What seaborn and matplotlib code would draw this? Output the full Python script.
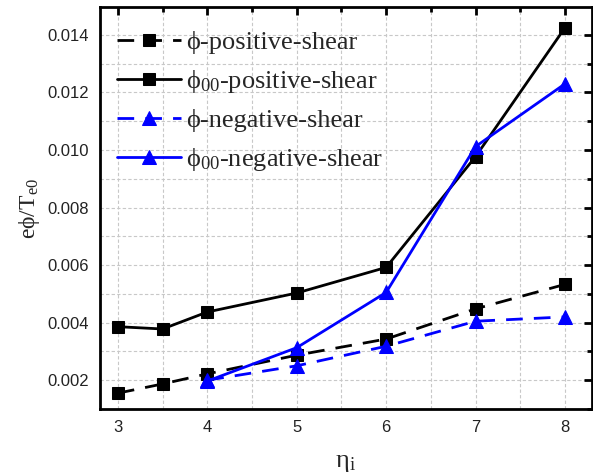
import numpy as np
import pandas as pd
import matplotlib
matplotlib.use("Agg")
import matplotlib.pyplot as plt
import seaborn as sns

eta_pos = [3, 3.5, 4, 5, 6, 7, 8]
phi_pos = [0.00155, 0.00187, 0.00222, 0.00287, 0.00343, 0.00448, 0.00533]
phi00_pos = [0.00386, 0.00378, 0.00437, 0.00503, 0.00592, 0.00977, 0.01425]
eta_neg = [4, 5, 6, 7, 8]
phi_neg = [0.00200, 0.00250, 0.00318, 0.00405, 0.00420]
phi00_neg = [0.00197, 0.00313, 0.00505, 0.01012, 0.01230]

labels = ["ϕ-positive-shear", "ϕ$_{00}$-positive-shear",
          "ϕ-negative-shear", "ϕ$_{00}$-negative-shear"]

sns.set_theme(style="white")
plt.rcParams['font.family'] = ['Liberation Sans', 'DejaVu Sans']
plt.rcParams['mathtext.fontset'] = 'custom'
plt.rcParams['mathtext.rm'] = 'Liberation Serif'
plt.rcParams['mathtext.it'] = 'Liberation Serif'

fig = plt.figure(figsize=(5.93, 4.76), dpi=100)
ax = fig.add_axes([0.1686, 0.1408, 0.8294, 0.8445])

df_pos = pd.DataFrame({"eta": eta_pos, "phi": phi_pos, "phi00": phi00_pos})
df_neg = pd.DataFrame({"eta": eta_neg, "phi": phi_neg, "phi00": phi00_neg})

sns.lineplot(data=df_pos, x="eta", y="phi", ax=ax, color="black", linestyle=(0, (6, 4)),
             marker="s", markersize=9, markeredgecolor="black", linewidth=2, label=labels[0])
sns.lineplot(data=df_pos, x="eta", y="phi00", ax=ax, color="black", linestyle="-",
             marker="s", markersize=9, markeredgecolor="black", linewidth=2, label=labels[1])
sns.lineplot(data=df_neg, x="eta", y="phi", ax=ax, color="#0000ff", linestyle=(0, (6, 4)),
             marker="^", markersize=10, markeredgecolor="#0000ff", linewidth=2, label=labels[2])
sns.lineplot(data=df_neg, x="eta", y="phi00", ax=ax, color="#0000ff", linestyle="-",
             marker="^", markersize=10, markeredgecolor="#0000ff", linewidth=2, label=labels[3])

ax.set_xlim(2.8, 8.3)
ax.set_ylim(0.001, 0.01497)
ax.set_xticks([3, 4, 5, 6, 7, 8])
ax.set_xticks(np.arange(3.5, 8.3, 1.0), minor=True)
ax.set_yticks([0.002, 0.004, 0.006, 0.008, 0.010, 0.012, 0.014])
ax.set_yticks(np.arange(0.001, 0.0150, 0.002), minor=True)
ax.set_yticklabels(["0.002", "0.004", "0.006", "0.008", "0.010", "0.012", "0.014"])

ax.grid(True, which="both", linestyle=(0, (3, 2)), color="#c8c8c8", linewidth=0.8)
ax.set_axisbelow(True)

ax.tick_params(which="major", direction="in", length=6, width=2, top=True, right=True,
               labelsize=12, colors="black", labelcolor="#222222", pad=8)
ax.tick_params(which="minor", direction="in", length=3.5, width=2, top=True, right=True,
               colors="black")
for s in ax.spines.values():
    s.set_linewidth(2)
    s.set_color("black")

ax.set_xlabel("η$_{\\mathrm{i}}$", fontsize=19, family="Liberation Serif", labelpad=12)
ax.set_ylabel("eϕ/T$_{\\mathrm{e0}}$", fontsize=17, family="Liberation Serif", labelpad=4)

leg = ax.legend(loc="upper left", bbox_to_anchor=(0.003, 0.98), frameon=False,
                prop={"family": "Liberation Serif", "size": 19}, handlelength=2.4,
                handletextpad=0.2, labelspacing=0.52, borderaxespad=0.2,
                markerscale=1.0)

fig.savefig("out.png", dpi=100)
